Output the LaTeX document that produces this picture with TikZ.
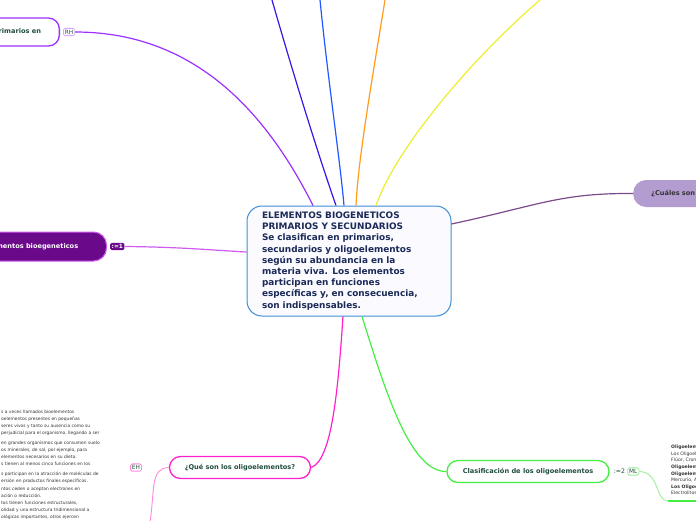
\documentclass[tikz,border=0pt]{standalone}
\usepackage{fontspec}
\setmainfont{DejaVu Sans}
\usetikzlibrary{positioning}

\definecolor{navy}{HTML}{1B2A57}
\definecolor{dkgreen}{HTML}{1F4D3F}
\definecolor{rootblue}{HTML}{3D8FD8}
\definecolor{violet}{HTML}{9B30FF}
\definecolor{plum}{HTML}{6A0A8A}
\definecolor{orchid}{HTML}{D05AF0}
\definecolor{lavender}{HTML}{B39DD0}
\definecolor{dullpurple}{HTML}{7B4B8B}
\definecolor{indigoline}{HTML}{3A14E8}
\definecolor{blueline}{HTML}{2158FF}
\definecolor{orangeline}{HTML}{FF9C1A}
\definecolor{yellowline}{HTML}{EEEE30}
\definecolor{magentaline}{HTML}{FF22CC}
\definecolor{pinkline}{HTML}{FF88DD}
\definecolor{greenline}{HTML}{44EE44}
\definecolor{lightgreen}{HTML}{99EE99}
\definecolor{smalltext}{HTML}{333333}

\begin{document}
\begin{tikzpicture}[x=1pt, y=-1pt,
  link/.style={line width=1.2pt},
  topic/.style={draw, line width=1.3pt, fill=white, rounded corners=11pt,
    minimum height=22pt, inner xsep=12pt, text=dkgreen,
    font=\bfseries\fontsize{6.6}{8}\selectfont},
  tag/.style={draw, line width=0.8pt, rounded corners=1.5pt, fill=white,
    inner sep=1.5pt, text=dkgreen, font=\fontsize{5.8}{6}\selectfont},
  notes/.style={align=left, text=smalltext, inner sep=0pt,
    font=\fontsize{4.4}{7.1}\selectfont}]
\useasboundingbox (0,0) rectangle (696,520);
\clip (0,0) rectangle (696,520);

% central topic
\node[draw=rootblue, line width=1pt, fill=blue!2, rounded corners=15pt,
  minimum width=204pt, minimum height=110pt, text width=174pt, inner xsep=15pt,
  align=left, text=navy, font=\bfseries\fontsize{8.9}{11.2}\selectfont]
  (root) at (349,261) {ELEMENTOS BIOGENETICOS\\PRIMARIOS Y SECUNDARIOS\\
  Se clasifican en primarios,\\secundarios y oligoelementos\\según su abundancia en la\\
  materia viva. Los elementos\\participan en funciones\\específicas y, en consecuencia,\\son indispensables.};

% top-left branch
\node[topic, draw=violet, minimum width=125pt, minimum height=28pt, anchor=east]
  (prim) at (60,32) {Elementos primarios en};
\node[tag, draw=violet!40, right=3pt of prim] (rh) {RH};
\draw[link, violet] (rh.east) .. controls (200,32) and (270,120) .. ([xshift=-36pt]root.north);

% branches leaving through the top
\coordinate (top1) at (272,0);
\coordinate (top2) at (320,0);
\coordinate (top3) at (385,0);
\coordinate (top4) at (540,0);
\draw[link, indigoline] (top1) .. controls (295,80) and (320,160) .. ([xshift=-13pt]root.north);
\draw[link, blueline] (top2) .. controls (328,80) and (340,160) .. ([xshift=-5pt]root.north);
\draw[link, orangeline] (top3) .. controls (372,80) and (358,160) .. ([xshift=7pt]root.north);
\draw[link, yellowline] (top4) .. controls (470,60) and (395,150) .. ([xshift=27pt]root.north);

% left branch
\node[draw=orchid, line width=1pt, fill=plum, rounded corners=13pt, minimum width=150pt,
  minimum height=29pt, anchor=east, text=white, font=\bfseries\fontsize{6.6}{8}\selectfont]
  (bio) at (107,246.5) {Elementos bioegeneticos};
\node[fill=plum, text=white, rounded corners=1.5pt, inner sep=1.5pt,
  font=\bfseries\fontsize{5.8}{6}\selectfont, right=3pt of bio] (n1) {:=1};
\draw[link, orchid] (n1.east) .. controls (180,247) and (210,250) .. (root.west |- 0,252);

% right branch
\node[fill=lavender, rounded corners=13pt, minimum height=27pt, anchor=west,
  inner xsep=18pt, text=black!80, font=\bfseries\fontsize{6.6}{8}\selectfont]
  (cuales) at (633,193.5) {¿Cuáles son los elementos?};
\draw[link, dullpurple] ([yshift=37pt]root.east) .. controls (540,205) and (560,193) .. (cuales.west);

% bottom-left branch
\node[topic, draw=magentaline, minimum width=141pt] (que) at (240,467.5) {¿Qué son los oligoelementos?};
\node[tag, draw=pinkline, left=27pt of que] (eh) {EH};
\draw[link, magentaline] ([xshift=-6pt]root.south) .. controls (338,390) and (332,460) .. (que.east);
\coordinate (down) at (150,522);
\draw[line width=0.9pt, pinkline] (que.west) .. controls (150,468) and (155,490) .. (down);

\node[notes, anchor=north west] (texto) at (1,409.5) {%
s a veces llamados bioelementos\\
oelementos presentes en pequeñas\\
seres vivos y tanto su ausencia como su\\
perjudicial para el organismo, llegando a ser\\[3pt]
en grandes organismos que consumen suelo\\
os minerales, de sal, por ejemplo, para\\
elementos necesarios en su dieta.\\
s tienen al menos cinco funciones en los\\[3pt]
s participan en la atracción de moléculas de\\
ersión en productos finales específicos.\\
ntos ceden o aceptan electrones en\\
ación o reducción.\\
tos tienen funciones estructurales,\\
olidad y una estructura tridimensional a\\
ológicas importantes, otros ejercen};

% bottom-right branch
\node[topic, draw=greenline, minimum width=162pt] (clas) at (528,471.5) {Clasificación de los oligoelementos};
\node[text=dkgreen, inner sep=1pt, font=\fontsize{6.2}{7}\selectfont, right=3pt of clas] (n2) {:=2};
\node[tag, draw=lightgreen, right=1pt of n2] (ml) {ML};
\draw[link, greenline] ([xshift=13pt]root.south) .. controls (385,390) and (410,472) .. (clas.west);

\node[notes, anchor=north west, text=black!80, font=\fontsize{4.6}{6.6}\selectfont] (lista) at (671,445) {%
\textbf{Oligoelementos primarios}\\
Los Oligoelementos\\
Flúor, Cromo\\
\textbf{Oligoelementos}\\
\textbf{Oligoelementos}\\
Mercurio, Arsénico\\
\textbf{Los Oligoelementos}\\
Electrolitos};
\coordinate (under) at (668,501);
\draw[line width=0.9pt, lightgreen] (ml.east) .. controls (660,472) and (655,501) .. (under);
\draw[line width=1.4pt, greenline] (under) -- (lista.south east |- under);
\end{tikzpicture}
\end{document}
